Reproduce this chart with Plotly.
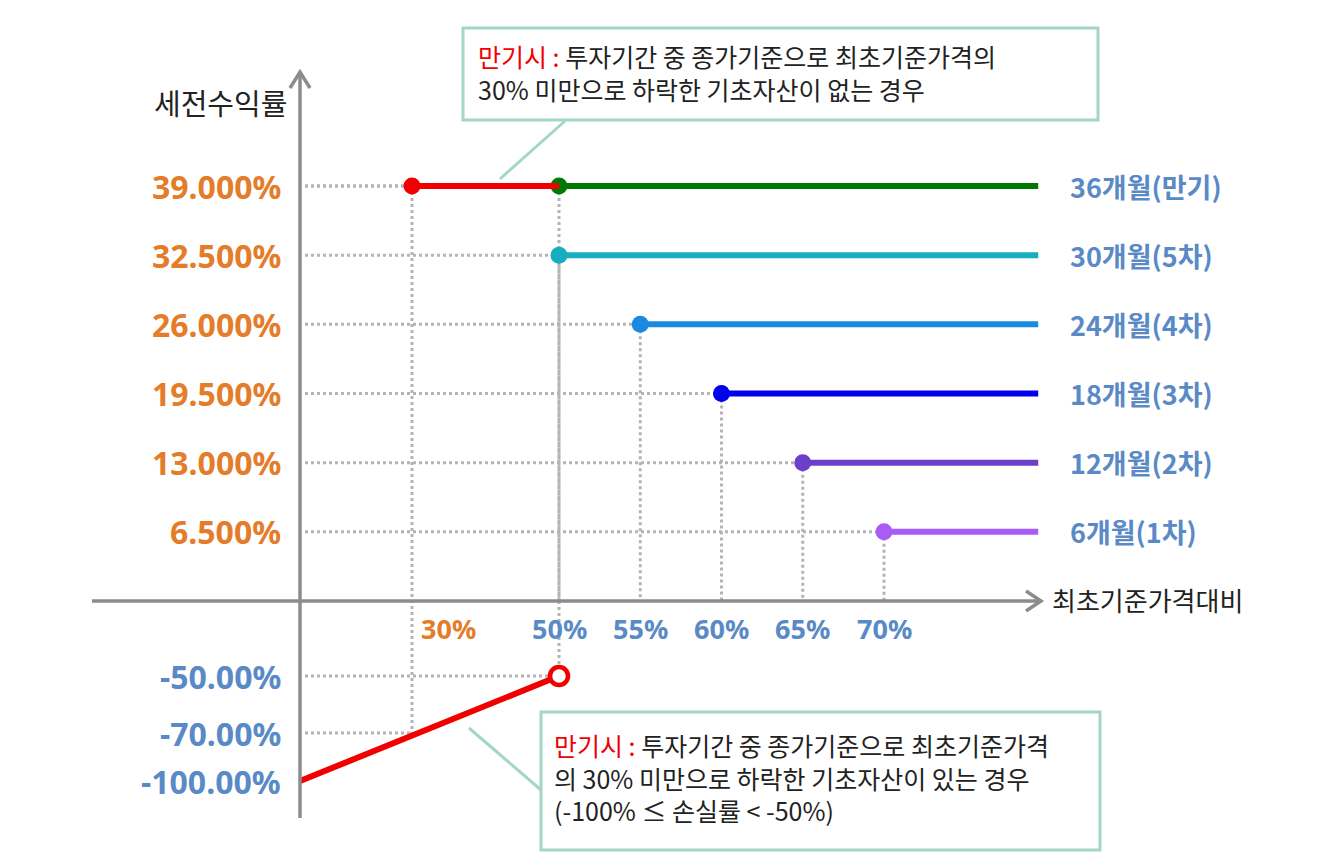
"""
Payoff diagram of a step-down ELS: pre-tax return vs. price relative to the initial reference price.
"""

import numpy as np
import plotly.graph_objects as go

##################################
## Data
##################################

periods = ["6개월(1차)", "12개월(2차)", "18개월(3차)", "24개월(4차)", "30개월(5차)", "36개월(만기)"]
barriers = [70, 65, 60, 55, 50, 50]
coupons = [6.5, 13.0, 19.5, 26.0, 32.5, 39.0]
coupon_labels = ["6.500%", "13.000%", "19.500%", "26.000%", "32.500%", "39.000%"]
series_colors = ["#A95CF5", "#6A40C8", "#0000EE", "#1A8AE0", "#17ADC0", "#007A00"]

knock_in = 30
loss_x = [0, 50]
loss_y = [-100, -50]
loss_ticks = [-50, -70, -100]
loss_labels = ["-50.00%", "-70.00%", "-100.00%"]

x_ticks = [30, 50, 55, 60, 65, 70]
x_tick_labels = ["30%", "50%", "55%", "60%", "65%", "70%"]
x_end = 79.5

##################################
## Schematic (broken) scales
##################################

X_VAL = [0, 30, 50, 70, 100]
X_POS = [0, 112, 259, 584, 1071]
Y_VAL = [-100, -70, -50, 0, 39]
Y_POS = [-180, -132, -75, 0, 415]


def sx(v):
    return np.interp(v, X_VAL, X_POS)


def sy(v):
    return np.interp(v, Y_VAL, Y_POS)


W, H = 1324, 857
OFF = 8  # page body margin
ORANGE = "#E47C2A"
BLUE = "#5A8AC6"
AXIS = "#8C8C8C"
GRID = "#B4B4B4"
BOX = "#A3D5C9"
RED = "#F00000"
KR = "Noto Sans CJK KR"
NUM = "Noto Sans"


def px(x, y):
    # screen pixel -> paper coordinates
    return (x - OFF) / W, 1 - (y - OFF) / H


fig = go.Figure()
shapes = []
annotations = []


# dotted guide lines
def guide(x0, y0, x1, y1):
    shapes.append(dict(type="line", x0=x0, y0=y0, x1=x1, y1=y1, xref="x", yref="y",
                       line=dict(color=GRID, width=3, dash="dot"), layer="below"))


for b, c in zip(barriers, coupons):
    guide(5, sy(c), sx(b), sy(c))
    guide(sx(b), sy(c), sx(b), sy(0))
guide(5, sy(coupons[-1]), sx(knock_in), sy(coupons[-1]))
guide(sx(knock_in), sy(coupons[-1]), sx(knock_in), sy(-70))
guide(5, sy(-70), sx(knock_in), sy(-70))
guide(5, sy(-50), sx(50), sy(-50))
guide(sx(50), sy(0), sx(50), sy(-50))

# axes with chevron arrow heads
shapes.append(dict(type="line", x0=0, y0=sy(-100) - 37, x1=0, y1=529, xref="x", yref="y",
                   line=dict(color=AXIS, width=3.5)))
shapes.append(dict(type="line", x0=-208, y0=0, x1=740, y1=0, xref="x", yref="y",
                   line=dict(color=AXIS, width=3.5)))
shapes.append(dict(type="path", path="M -10,513 L 0,529 L 10,513", xref="x", yref="y",
                   line=dict(color=AXIS, width=3.5)))
shapes.append(dict(type="path", path="M 726,10 L 741,0 L 726,-10", xref="x", yref="y",
                   line=dict(color=AXIS, width=3.5)))

# coupon steps
for name, b, c, col in zip(periods, barriers, coupons, series_colors):
    fig.add_trace(go.Scatter(x=sx([b, x_end]), y=sy([c, c]), mode="lines",
                             line=dict(color=col, width=6), name=name, showlegend=False))
    fig.add_trace(go.Scatter(x=sx([b]), y=sy([c]), mode="markers",
                             marker=dict(color=col, size=17), showlegend=False))
    annotations.append(dict(x=sx(x_end) + 30, y=sy(c), xref="x", yref="y", text=name,
                            showarrow=False, xanchor="left", yanchor="middle",
                            font=dict(family=KR, size=27, color=BLUE, weight="bold")))

# maturity without knock-in (red) and with knock-in (loss line)
fig.add_trace(go.Scatter(x=sx([knock_in, 50]), y=sy([coupons[-1]] * 2), mode="lines",
                         line=dict(color=RED, width=6), showlegend=False))
fig.add_trace(go.Scatter(x=sx([knock_in]), y=sy([coupons[-1]]), mode="markers",
                         marker=dict(color=RED, size=17), showlegend=False))
fig.add_trace(go.Scatter(x=sx(loss_x), y=sy(loss_y), mode="lines",
                         line=dict(color=RED, width=6), showlegend=False))
fig.add_trace(go.Scatter(x=sx([loss_x[-1]]), y=sy([loss_y[-1]]), mode="markers",
                         marker=dict(color="white", size=18, line=dict(color=RED, width=4.5)),
                         showlegend=False))

# y tick labels
for v, t in zip(coupons, coupon_labels):
    annotations.append(dict(x=-17, y=sy(v), xref="x", yref="y", text=t, showarrow=False,
                            xanchor="right", yanchor="middle",
                            font=dict(family=NUM, size=32, color=ORANGE, weight="bold")))
for v, t in zip(loss_ticks, loss_labels):
    annotations.append(dict(x=-17, y=sy(v), xref="x", yref="y", text=t, showarrow=False,
                            xanchor="right", yanchor="middle",
                            font=dict(family=NUM, size=32, color=BLUE, weight="bold")))

# x tick labels
for v, t in zip(x_ticks, x_tick_labels):
    xx = sx(v) + (36 if v == knock_in else 0)
    annotations.append(dict(x=xx, y=-27, xref="x", yref="y", text=t, showarrow=False,
                            xanchor="center", yanchor="middle",
                            font=dict(family=NUM, size=27,
                                      color=ORANGE if v == knock_in else BLUE, weight="bold")))

# axis titles
annotations.append(dict(x=-80, y=499, xref="x", yref="y", text="세전수익률", showarrow=False,
                        xanchor="center", yanchor="middle",
                        font=dict(family=KR, size=29, color="#222222")))
annotations.append(dict(x=750, y=2, xref="x", yref="y", text="최초기준가격대비", showarrow=False,
                        xanchor="left", yanchor="middle",
                        font=dict(family=KR, size=26, color="#222222")))

# callout boxes
for (x0, y0, x1, y1) in [(463, 28, 1098, 120), (541, 712, 1100, 850)]:
    a0, b0 = px(x0, y0)
    a1, b1 = px(x1, y1)
    shapes.append(dict(type="rect", x0=a0, y0=b1, x1=a1, y1=b0, xref="paper", yref="paper",
                       fillcolor="white", line=dict(color=BOX, width=3)))
for (x0, y0, x1, y1) in [(565, 121, 500, 179), (541, 790, 469, 728)]:
    a0, b0 = px(x0, y0)
    a1, b1 = px(x1, y1)
    shapes.append(dict(type="line", x0=a0, y0=b0, x1=a1, y1=b1, xref="paper", yref="paper",
                       line=dict(color=BOX, width=3)))

note_top = ("<span style='color:#F00000'>만기시 :</span> 투자기간 중 종가기준으로 최초기준가격의<br>"
            "30% 미만으로 하락한 기초자산이 없는 경우")
note_bot = ("<span style='color:#F00000'>만기시 :</span> 투자기간 중 종가기준으로 최초기준가격<br>"
            "의 30% 미만으로 하락한 기초자산이 있는 경우<br>"
            "(-100% ≤ 손실률 < -50%)")
ax, ay = px(476, 36)
annotations.append(dict(x=ax, y=ay, xref="paper", yref="paper", text=note_top, showarrow=False,
                        xanchor="left", yanchor="top", align="left",
                        font=dict(family=KR, size=25, color="#222222")))
ax, ay = px(552, 725)
annotations.append(dict(x=ax, y=ay, xref="paper", yref="paper", text=note_bot, showarrow=False,
                        xanchor="left", yanchor="top", align="left",
                        font=dict(family=KR, size=25, color="#222222")))

fig.update_layout(
    width=W,
    height=H,
    margin=dict(l=0, r=0, t=0, b=0),
    paper_bgcolor="white",
    plot_bgcolor="white",
    shapes=shapes,
    annotations=annotations,
    showlegend=False,
)
fig.update_xaxes(range=[-300 + OFF, W - 300 + OFF], visible=False, fixedrange=True)
fig.update_yaxes(range=[601 - OFF - H, 601 - OFF], visible=False, fixedrange=True)

fig.write_html("out.html")
